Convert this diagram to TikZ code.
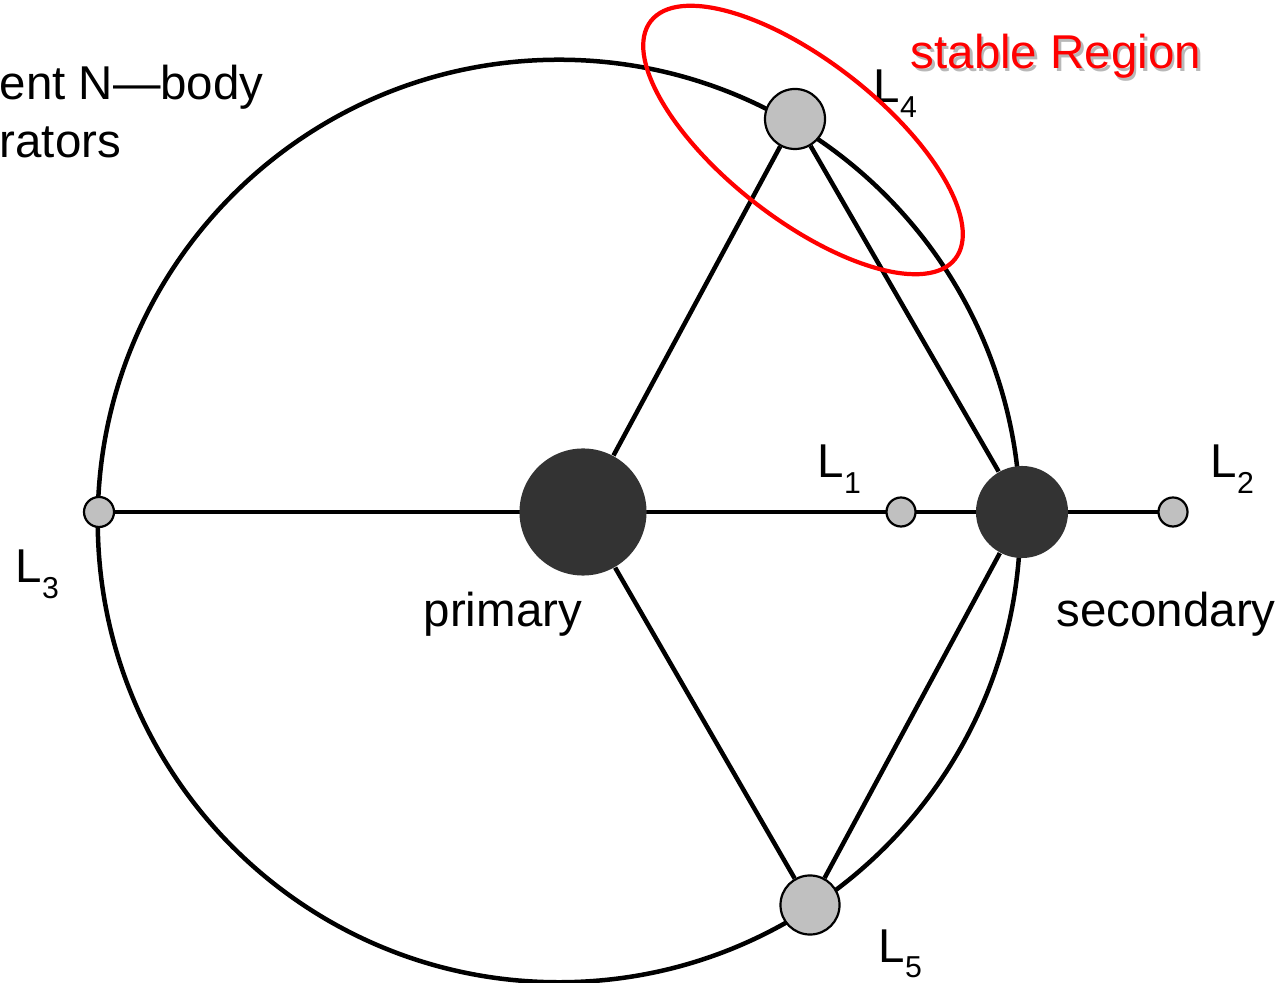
\documentclass[tikz,border=0pt]{standalone}
\usepackage{fontspec}
\setmainfont{Liberation Sans}
\definecolor{darkbody}{HTML}{333333}
\definecolor{lgray}{HTML}{C0C0C0}
\definecolor{shadowgray}{HTML}{B8B8B8}
\definecolor{regred}{HTML}{FF0000}
\pgfdeclarelayer{bg}
\pgfsetlayers{bg,main}
\newcommand{\Lab}[1]{L\raisebox{-0.15cm}{\fontsize{8.6}{10}\selectfont #1}}
\begin{document}
\begin{tikzpicture}[x=0.01cm,y=-0.01cm,
  orbit/.style={line width=0.045cm, draw=black},
  body/.style={circle, fill=darkbody, inner sep=0pt},
  lpt/.style={circle, fill=lgray, draw=black, line width=0.022cm, inner sep=0pt},
  lab/.style={anchor=base west, inner sep=0pt, font=\fontsize{13.5}{16}\selectfont}]
\useasboundingbox (0,0) rectangle (1285,983);

% bodies and Lagrange points
\node[body, minimum size=1.27cm] (P) at (583,512) {};
\node[body, minimum size=0.92cm] (S) at (1022,512) {};
\node[lpt, minimum size=0.29cm] (L1) at (901,512) {};
\node[lpt, minimum size=0.29cm] (L2) at (1173,512) {};
\node[lpt, minimum size=0.30cm] (L3) at (99,512) {};
\node[lpt, minimum size=0.60cm] (L4) at (795,119) {};
\node[lpt, minimum size=0.59cm] (L5) at (810,905) {};

\begin{pgfonlayer}{bg}
  \coordinate (O) at (559,521);
  \draw[orbit] (O) circle[radius=4.61cm];
  \draw[orbit] (L3.center) -- (L2.center);
  \draw[orbit] (P) -- (L4);
  \draw[orbit] (L4) -- (S);
  \draw[orbit] (S) -- (L5);
  \draw[orbit] (L5) -- (P);
\end{pgfonlayer}

% labels
\node[lab] (t1) at (-1,100) {ent N—body};
\node[lab] (t2) at (-1,158) {rators};
\node[lab] (lL4) at (873,103) {\Lab{4}};
\node[lab] (lL1) at (817,478) {\Lab{1}};
\node[lab] (lL2) at (1210,478) {\Lab{2}};
\node[lab] (lL3) at (15,583) {\Lab{3}};
\node[lab] (lL5) at (878,962) {\Lab{5}};
\node[lab] (lP) at (423,627) {primary};
\node[lab] (lS) at (1056,627) {secondary};

% stable region
\draw[regred, line width=0.042cm, shift={(803,140)}, rotate=-38] (0,0) ellipse [x radius=1.93cm, y radius=0.79cm];
\node[lab, text=shadowgray] (srs) at (912.5,71.5) {stable Region};
\node[lab, text=regred] (sr) at (910,69) {stable Region};
\end{tikzpicture}
\end{document}
